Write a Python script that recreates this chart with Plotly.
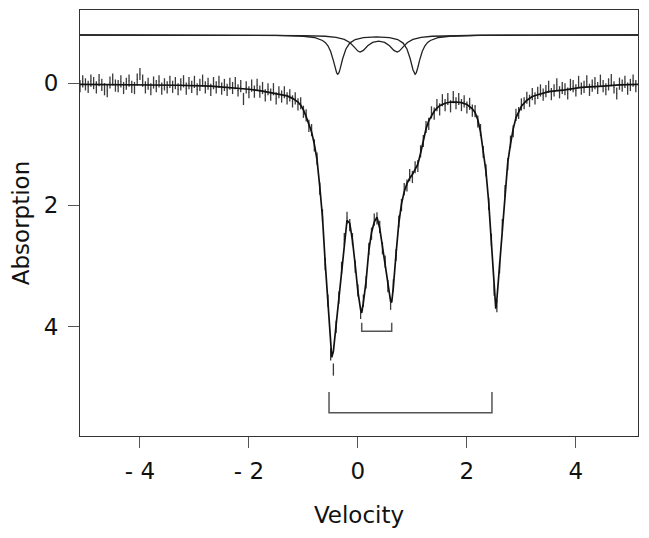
import plotly.graph_objects as go

# Measured channels (velocity, mm/s) and absorption
VELOCITY = [
    -5.10, -5.05, -5.00, -4.95, -4.90, -4.85, -4.80, -4.75, -4.70, -4.65,
    -4.60, -4.55, -4.50, -4.45, -4.40, -4.35, -4.30, -4.25, -4.20, -4.15,
    -4.10, -4.05, -4.00, -3.95, -3.90, -3.85, -3.80, -3.75, -3.70, -3.65,
    -3.60, -3.55, -3.50, -3.45, -3.40, -3.35, -3.30, -3.25, -3.20, -3.15,
    -3.10, -3.05, -3.00, -2.95, -2.90, -2.85, -2.80, -2.75, -2.70, -2.65,
    -2.60, -2.55, -2.50, -2.45, -2.40, -2.35, -2.30, -2.25, -2.20, -2.15,
    -2.10, -2.05, -2.00, -1.95, -1.90, -1.85, -1.80, -1.75, -1.70, -1.65,
    -1.60, -1.55, -1.50, -1.45, -1.40, -1.35, -1.30, -1.25, -1.20, -1.15,
    -1.10, -1.05, -1.00, -0.95, -0.90, -0.85, -0.80, -0.75, -0.70, -0.65,
    -0.60, -0.55, -0.50, -0.45, -0.40, -0.35, -0.30, -0.25, -0.20, -0.15,
    -0.10, -0.05, 0.00, 0.05, 0.10, 0.15, 0.20, 0.25, 0.30, 0.35,
    0.40, 0.45, 0.50, 0.55, 0.60, 0.65, 0.70, 0.75, 0.80, 0.85,
    0.90, 0.95, 1.00, 1.05, 1.10, 1.15, 1.20, 1.25, 1.30, 1.35,
    1.40, 1.45, 1.50, 1.55, 1.60, 1.65, 1.70, 1.75, 1.80, 1.85,
    1.90, 1.95, 2.00, 2.05, 2.10, 2.15, 2.20, 2.25, 2.30, 2.35,
    2.40, 2.45, 2.50, 2.55, 2.60, 2.65, 2.70, 2.75, 2.80, 2.85,
    2.90, 2.95, 3.00, 3.05, 3.10, 3.15, 3.20, 3.25, 3.30, 3.35,
    3.40, 3.45, 3.50, 3.55, 3.60, 3.65, 3.70, 3.75, 3.80, 3.85,
    3.90, 3.95, 4.00, 4.05, 4.10, 4.15, 4.20, 4.25, 4.30, 4.35,
    4.40, 4.45, 4.50, 4.55, 4.60, 4.65, 4.70, 4.75, 4.80, 4.85,
    4.90, 4.95, 5.00, 5.05, 5.10,
]
ABSORPTION = [
    0.05, -0.03, 0.02, 0.06, -0.04, 0.00, 0.07, -0.05, 0.03, 0.10,
    0.13, -0.01, -0.06, 0.04, 0.05, -0.03, 0.08, 0.01, -0.04, 0.06,
    0.08, -0.06, -0.15, -0.04, 0.07, 0.01, 0.10, -0.01, 0.05, -0.03,
    0.09, 0.02, 0.07, -0.02, 0.06, 0.00, 0.10, 0.02, -0.03, 0.09,
    0.00, 0.06, -0.02, 0.10, 0.03, -0.04, 0.07, 0.01, 0.11, 0.00,
    0.07, -0.02, 0.09, 0.03, 0.11, 0.01, 0.08, 0.00, 0.12, 0.05,
    0.26, 0.07, 0.15, 0.04, 0.14, 0.03, 0.14, 0.08, 0.20, 0.10,
    0.19, 0.10, 0.25, 0.15, 0.22, 0.15, 0.25, 0.20, 0.30, 0.25,
    0.35, 0.33, 0.47, 0.53, 0.70, 0.77, 1.02, 1.24, 1.73, 2.17,
    2.97, 3.57, 4.45, 4.70, 4.00, 3.52, 3.03, 2.56, 2.21, 2.33,
    2.56, 3.01, 3.40, 3.77, 3.57, 3.27, 2.72, 2.47, 2.24, 2.22,
    2.36, 2.71, 2.93, 3.33, 3.62, 3.32, 2.82, 2.27, 2.00, 1.74,
    1.68, 1.51, 1.54, 1.38, 1.36, 1.12, 0.95, 0.72, 0.67, 0.48,
    0.50, 0.36, 0.43, 0.28, 0.36, 0.26, 0.38, 0.23, 0.33, 0.26,
    0.36, 0.30, 0.40, 0.34, 0.45, 0.46, 0.63, 0.77, 1.13, 1.43,
    1.98, 2.57, 3.39, 3.66, 3.02, 2.33, 1.77, 1.33, 0.96, 0.79,
    0.52, 0.49, 0.35, 0.33, 0.24, 0.29, 0.18, 0.25, 0.16, 0.12,
    0.19, 0.13, 0.06, 0.18, 0.12, 0.02, 0.15, 0.08, 0.10, 0.17,
    0.03, 0.05, 0.12, -0.02, 0.09, 0.06, -0.03, 0.11, 0.04, 0.00,
    0.08, -0.04, 0.05, 0.10, 0.02, -0.05, 0.07, 0.17, 0.01, 0.04,
    -0.02, 0.09, 0.03, -0.04, 0.05,
]
ERROR = 0.1

# Fitted envelope
FIT_V = [
    -5.10, -4.20, -3.30, -2.70, -2.35, -2.00, -1.75, -1.50, -1.30, -1.20,
    -1.10, -1.05, -1.00, -0.95, -0.90, -0.85, -0.80, -0.75, -0.70, -0.65,
    -0.60, -0.55, -0.50, -0.48, -0.45, -0.40, -0.35, -0.30, -0.25, -0.20,
    -0.15, -0.10, -0.05, 0.00, 0.05, 0.07, 0.10, 0.15, 0.20, 0.25,
    0.30, 0.35, 0.40, 0.45, 0.50, 0.55, 0.60, 0.62, 0.65, 0.70,
    0.75, 0.80, 0.85, 0.90, 0.95, 1.00, 1.05, 1.10, 1.15, 1.20,
    1.25, 1.30, 1.35, 1.40, 1.45, 1.50, 1.60, 1.70, 1.80, 1.90,
    2.00, 2.05, 2.10, 2.15, 2.20, 2.25, 2.30, 2.35, 2.40, 2.45,
    2.50, 2.53, 2.55, 2.60, 2.65, 2.70, 2.75, 2.80, 2.85, 2.90,
    2.95, 3.00, 3.10, 3.20, 3.30, 3.50, 3.80, 4.10, 4.50, 4.80, 5.14,
]
FIT_A = [
    0.02, 0.025, 0.035, 0.05, 0.07, 0.10, 0.13, 0.17, 0.21, 0.25,
    0.31, 0.36, 0.44, 0.55, 0.66, 0.80, 1.00, 1.26, 1.70, 2.20,
    2.95, 3.60, 4.30, 4.50, 4.40, 3.95, 3.55, 3.05, 2.60, 2.25,
    2.30, 2.58, 2.98, 3.42, 3.72, 3.77, 3.60, 3.25, 2.75, 2.45,
    2.28, 2.20, 2.38, 2.68, 2.95, 3.30, 3.58, 3.60, 3.35, 2.80,
    2.30, 1.98, 1.78, 1.65, 1.56, 1.50, 1.42, 1.33, 1.15, 0.92,
    0.75, 0.62, 0.54, 0.46, 0.41, 0.37, 0.33, 0.31, 0.31, 0.32,
    0.35, 0.38, 0.42, 0.48, 0.60, 0.80, 1.10, 1.45, 1.95, 2.60,
    3.35, 3.70, 3.55, 3.00, 2.30, 1.80, 1.30, 1.00, 0.75, 0.57,
    0.46, 0.38, 0.28, 0.22, 0.19, 0.14, 0.11, 0.07, 0.05, 0.03, 0.02,
]

# Subspectra drawn offset above the data
SUB1_V = [
    -5.10, -2.50, -1.50, -1.00, -0.80, -0.65, -0.60, -0.55, -0.50, -0.45,
    -0.42, -0.40, -0.39, -0.37, -0.35, -0.33, -0.28, -0.22, -0.15, -0.05,
    0.10, 0.34, 0.58, 0.73, 0.83, 0.90, 0.96, 1.01, 1.03, 1.05,
    1.07, 1.08, 1.10, 1.13, 1.18, 1.23, 1.28, 1.33, 1.48, 1.68,
    2.18, 3.20, 5.14,
]
SUB1_A = [
    -0.790, -0.788, -0.783, -0.769, -0.749, -0.700, -0.668, -0.613, -0.520, -0.370,
    -0.257, -0.190, -0.166, -0.146, -0.166, -0.221, -0.400, -0.560, -0.657, -0.716,
    -0.748, -0.760, -0.748, -0.716, -0.657, -0.560, -0.400, -0.221, -0.166, -0.146,
    -0.166, -0.190, -0.257, -0.370, -0.520, -0.613, -0.668, -0.700, -0.749, -0.769,
    -0.783, -0.788, -0.790,
]
SUB2_V = [
    -5.10, -2.50, -1.50, -1.00, -0.60, -0.40, -0.25, -0.15, -0.07, 0.00,
    0.04, 0.10, 0.18, 0.27, 0.38, 0.49, 0.58, 0.66, 0.72, 0.76,
    0.83, 0.91, 1.01, 1.16, 1.36, 1.76, 2.26, 3.26, 5.14,
]
SUB2_A = [
    -0.790, -0.788, -0.786, -0.781, -0.769, -0.751, -0.717, -0.667, -0.595, -0.526,
    -0.509, -0.537, -0.612, -0.668, -0.689, -0.668, -0.612, -0.537, -0.509, -0.526,
    -0.595, -0.667, -0.717, -0.751, -0.769, -0.781, -0.786, -0.788, -0.790,
]

# Doublet markers
BRACKET1_V = [0.07, 0.07, 0.62, 0.62]
BRACKET1_A = [3.93, 4.07, 4.07, 3.93]
BRACKET2_V = [-0.53, -0.53, 2.46, 2.46]
BRACKET2_A = [5.07, 5.41, 5.41, 5.07]

FONT = 'DejaVu Sans, Liberation Sans, Arial, sans-serif'

fig = go.Figure()

fig.add_trace(go.Scatter(
    x=VELOCITY, y=ABSORPTION, mode='markers',
    marker=dict(size=1, color='#333'),
    error_y=dict(type='constant', value=ERROR, width=0,
                 thickness=1.3, color='#3a3a3a'),
    hoverinfo='skip', showlegend=False,
))
fig.add_trace(go.Scatter(
    x=FIT_V, y=FIT_A, mode='lines',
    line=dict(color='#111', width=1.7),
    hoverinfo='skip', showlegend=False,
))
for xs, ys in [(SUB1_V, SUB1_A), (SUB2_V, SUB2_A)]:
    fig.add_trace(go.Scatter(
        x=xs, y=ys, mode='lines',
        line=dict(color='#222', width=1.3),
        hoverinfo='skip', showlegend=False,
    ))
for xs, ys in [(BRACKET1_V, BRACKET1_A), (BRACKET2_V, BRACKET2_A)]:
    fig.add_trace(go.Scatter(
        x=xs, y=ys, mode='lines',
        line=dict(color='#555', width=1.5),
        hoverinfo='skip', showlegend=False,
    ))

axis_common = dict(
    showgrid=False, zeroline=False, automargin=False,
    showline=True, mirror=True, linecolor='#333', linewidth=1,
    ticks='outside', ticklen=11, tickwidth=1, tickcolor='#555',
    tickfont=dict(size=23, color='#111', family=FONT),
    title_font=dict(size=23, color='#111', family=FONT),
)

# the page body adds an 8px offset, so margins are trimmed by 8 on top/left
fig.update_layout(
    width=649, height=538,
    paper_bgcolor='white', plot_bgcolor='white',
    margin=dict(l=72, r=19, t=2, b=110),
    font=dict(family=FONT),
    xaxis=dict(
        range=[-5.10, 5.14],
        tickvals=[-4, -2, 0, 2, 4],
        ticktext=['- 4', '- 2', '0', '2', '4'],
        ticklabelstandoff=3,
        title=dict(text='Velocity', standoff=24),
        **axis_common,
    ),
    yaxis=dict(
        range=[5.79, -1.2],
        tickvals=[0, 2, 4],
        ticktext=['0', '2', '4'],
        ticklabelstandoff=5,
        title=dict(text='Absorption', standoff=15),
        **axis_common,
    ),
)

fig.write_html('out.html')
